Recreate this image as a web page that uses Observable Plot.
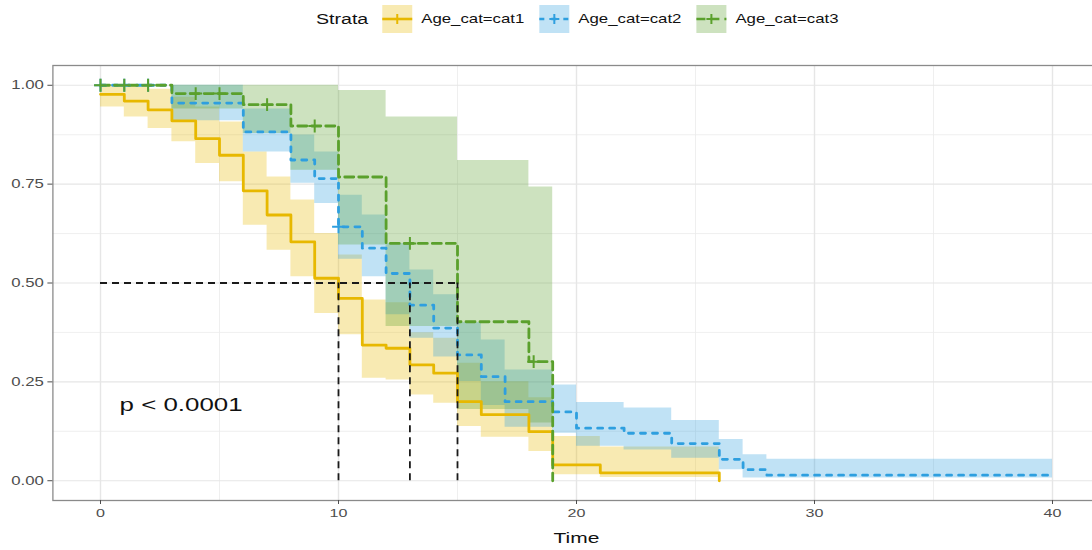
<!DOCTYPE html>
<html><head><meta charset="utf-8">
<script src="https://cdn.jsdelivr.net/npm/d3@7"></script>
<script src="https://cdn.jsdelivr.net/npm/@observablehq/plot@0.6"></script>
<style>
html,body{margin:0;padding:0;background:#fff;overflow:hidden;font-family:"Liberation Sans",Arial,sans-serif;}
#legend{height:45px;}
#legend svg,#chart svg{display:block;}
</style></head><body>
<div id="legend"></div>
<div id="chart"></div>
<script>
// ---------- data ----------
const strata = ["Age_cat=cat1", "Age_cat=cat2", "Age_cat=cat3"];
const colors = ["#E7B800", "#2E9FDF", "#5AA02C"];

const cat1Time  = [0, 1, 2, 3, 4, 5, 6, 7, 8, 9, 10, 11, 12, 13, 14, 15, 16, 18, 19, 21, 26];
const cat1Surv  = [0.977, 0.960, 0.938, 0.910, 0.865, 0.823, 0.733, 0.672, 0.604, 0.512, 0.461, 0.343, 0.335, 0.293, 0.272, 0.200, 0.167, 0.124, 0.040, 0.020, 0];
const cat1Upper = [1, 1, 0.99, 0.97, 0.945, 0.907, 0.831, 0.768, 0.71, 0.625, 0.571, 0.457, 0.45, 0.374, 0.36, 0.297, 0.25, 0.21, 0.112, 0.085, 0.085];
const cat1Lower = [0.945, 0.92, 0.891, 0.857, 0.802, 0.756, 0.646, 0.583, 0.516, 0.423, 0.369, 0.259, 0.255, 0.217, 0.196, 0.137, 0.11, 0.074, 0.015, 0.008, 0.008];
const cat1Censor = [];

const cat2Time  = [0, 3, 6, 8, 9, 10, 11, 12, 13, 14, 15, 16, 17, 19, 20, 22, 24, 26, 27, 28, 40];
const cat2Surv  = [1, 0.955, 0.882, 0.811, 0.764, 0.642, 0.588, 0.524, 0.444, 0.386, 0.318, 0.263, 0.200, 0.174, 0.133, 0.120, 0.094, 0.054, 0.028, 0.014, 0.014];
const cat2Upper = [1, 1, 0.94, 0.874, 0.831, 0.722, 0.672, 0.60, 0.533, 0.47, 0.40, 0.356, 0.28, 0.242, 0.198, 0.184, 0.152, 0.104, 0.066, 0.054, 0.054];
const cat2Lower = [1, 0.91, 0.831, 0.752, 0.701, 0.56, 0.516, 0.42, 0.36, 0.313, 0.251, 0.19, 0.135, 0.12, 0.087, 0.078, 0.057, 0.028, 0.007, 0.007, 0.007];
const cat2Censor = [0, 1, 2, 10];

const cat3Time  = [0, 3, 6, 8, 10, 12, 15, 18, 19];
const cat3Surv  = [1, 0.979, 0.951, 0.897, 0.768, 0.600, 0.402, 0.301, 0];
const cat3Upper = [1, 1, 1, 1, 0.987, 0.92, 0.81, 0.743, 0.743];
const cat3Lower = [1, 0.94, 0.878, 0.785, 0.596, 0.39, 0.18, 0.146, 0.146];
const cat3Censor = [0, 1, 2, 4, 5, 7, 9, 13, 18.2];

const medianTimes = [10, 13, 15];
const medianSurv = 0.5;
const xTicks = [0, 10, 20, 30, 40];
const xMinor = [5, 15, 25, 35];
const yTicks = [0, 0.25, 0.5, 0.75, 1];
const yMinor = [0.125, 0.375, 0.625, 0.875];
const pLabel = "p < 0.0001";
const legendTitle = "Strata";

// ---------- styling ----------
const dashes = [null, "5,7", "9,5"];
const SX = 1.4; // horizontal text stretch of the reference
const FONT = '"Liberation Sans", Arial, sans-serif';

function series(time, surv, up, lo, k) {
  return time.map((t, i) => ({time: t, surv: surv[i], upper: up[i], lower: lo[i], strata: strata[k]}));
}
function stepAt(time, surv, t) {
  let v = surv[0];
  for (let i = 0; i < time.length; i++) if (time[i] <= t) v = surv[i];
  return v;
}
const S = [
  series(cat1Time, cat1Surv, cat1Upper, cat1Lower, 0),
  series(cat2Time, cat2Surv, cat2Upper, cat2Lower, 1),
  series(cat3Time, cat3Surv, cat3Upper, cat3Lower, 2)
];
const C = [
  cat1Censor.map(t => ({time: t, surv: stepAt(cat1Time, cat1Surv, t)})),
  cat2Censor.map(t => ({time: t, surv: stepAt(cat2Time, cat2Surv, t)})),
  cat3Censor.map(t => ({time: t, surv: stepAt(cat3Time, cat3Surv, t)}))
];

const marks = [
  Plot.ruleX(xMinor, {stroke: "#ebebeb", strokeWidth: 0.8}),
  Plot.ruleY(yMinor, {stroke: "#ebebeb", strokeWidth: 0.8}),
  Plot.ruleX(xTicks, {stroke: "#e6e6e6", strokeWidth: 1.4}),
  Plot.ruleY(yTicks, {stroke: "#e6e6e6", strokeWidth: 1.2})
];
S.forEach((s, k) => marks.push(Plot.areaY(s, {x: "time", y1: "lower", y2: "upper", curve: "step-after", fill: colors[k], fillOpacity: 0.3})));
S.forEach((s, k) => marks.push(Plot.line(s, {x: "time", y: "surv", curve: "step-after", stroke: colors[k], strokeWidth: 2.8, strokeDasharray: dashes[k] || undefined})));
C.forEach((c, k) => marks.push(Plot.dot(c, {x: "time", y: "surv", symbol: "plus", r: 4.2, stroke: colors[k], strokeWidth: 2})));
marks.push(
  Plot.ruleY([medianSurv], {x1: 0, x2: d3.max(medianTimes), stroke: "#1a1a1a", strokeWidth: 1.8, strokeDasharray: "7,5"}),
  Plot.ruleX(medianTimes, {y1: 0, y2: medianSurv, stroke: "#1a1a1a", strokeWidth: 1.8, strokeDasharray: "7,5"}),
  Plot.text([pLabel], {x: 0.8, y: 0.2, text: d => d, textAnchor: "start", fontSize: 18.5, dy: 3, fill: "#111"}),
  Plot.frame({stroke: "#8a8a8a", strokeWidth: 1.3}),
  Plot.axisX({ticks: xTicks, tickSize: 4, tickPadding: 4, label: null, fontSize: 11.5, color: "#4d4d4d"}),
  Plot.axisY({ticks: yTicks, tickFormat: d3.format(".2f"), tickSize: 5, tickPadding: 4, label: null, fontSize: 12, color: "#4d4d4d"}),
  Plot.text(["Time"], {frameAnchor: "bottom", dy: 42, text: d => d, fontSize: 15, fill: "#111"})
);

const chart = Plot.plot({
  width: 1092,
  height: 505,
  marginLeft: 52.4,
  marginRight: -7.6,
  marginTop: 20,
  marginBottom: 50,
  x: {domain: [-2, 42]},
  y: {domain: [-0.05, 1.05]},
  style: {fontFamily: FONT, fontSize: "12px", background: "#fff", overflow: "hidden"},
  marks
});
document.getElementById("chart").appendChild(chart);

function stretch(root) {
  root.querySelectorAll("text").forEach(t => {
    const tr = t.getAttribute("transform");
    if (tr) t.setAttribute("transform", tr + ` scale(${SX},1)`);
    else {
      const x = +t.getAttribute("x") || 0;
      t.setAttribute("transform", `translate(${x},0) scale(${SX},1) translate(${-x},0)`);
    }
  });
}
stretch(chart);

// ---------- legend ----------
const leg = d3.select("#legend").append("svg").attr("width", 1092).attr("height", 45)
  .style("font-family", FONT);
let cursor = 316;
const title = leg.append("text").attr("transform", `translate(${cursor},19) scale(${SX},1)`)
  .attr("dy", "0.35em").attr("font-size", 14).attr("fill", "#111").text(legendTitle);
cursor += title.node().getComputedTextLength() * SX + 14;
strata.forEach((name, k) => {
  const g = leg.append("g").attr("transform", `translate(${cursor},5)`);
  g.append("rect").attr("width", 30).attr("height", 28).attr("fill", colors[k]).attr("fill-opacity", 0.3);
  g.append("line").attr("x1", 0).attr("x2", 30).attr("y1", 14).attr("y2", 14)
    .attr("stroke", colors[k]).attr("stroke-width", 2.6).attr("stroke-dasharray", dashes[k]);
  g.append("line").attr("x1", 15).attr("x2", 15).attr("y1", 9).attr("y2", 19)
    .attr("stroke", colors[k]).attr("stroke-width", 2);
  g.append("line").attr("x1", 10).attr("x2", 20).attr("y1", 14).attr("y2", 14)
    .attr("stroke", colors[k]).attr("stroke-width", 2);
  const lab = leg.append("text").attr("transform", `translate(${cursor + 39},19) scale(${SX},1)`)
    .attr("dy", "0.35em").attr("font-size", 12).attr("fill", "#111").text(name);
  cursor += 39 + lab.node().getComputedTextLength() * SX + 15;
});
</script>
</body></html>
